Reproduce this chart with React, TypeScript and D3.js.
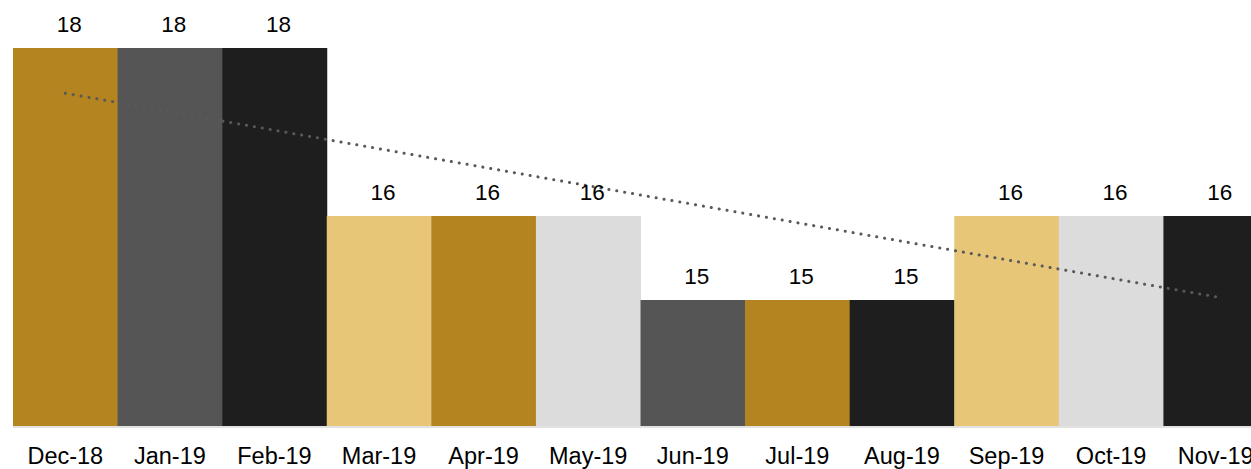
import React from "react";
import * as d3 from "d3";

const months = [
  "Dec-18", "Jan-19", "Feb-19", "Mar-19", "Apr-19", "May-19",
  "Jun-19", "Jul-19", "Aug-19", "Sep-19", "Oct-19", "Nov-19",
];
const values = [18, 18, 18, 16, 16, 16, 15, 15, 15, 16, 16, 16];
const barColors = [
  "#B3841F", "#555555", "#1E1E1E", "#E8C677", "#B3841F", "#DCDCDC",
  "#555555", "#B3841F", "#1E1E1E", "#E8C677", "#DCDCDC", "#1E1E1E",
];

const W = 1251;
const H = 469;

const App: React.FC = () => {
  const x = d3.scaleBand<string>().domain(months).range([13, 1268]).padding(0);
  const y = d3.scaleLinear().domain([13.5, 18]).range([426, 48]);

  // linear trend line (least squares)
  const n = values.length;
  const xs = d3.range(1, n + 1);
  const mx = d3.mean(xs)!;
  const my = d3.mean(values)!;
  const slope =
    d3.sum(xs, (xi, i) => (xi - mx) * (values[i] - my)) /
    d3.sum(xs, (xi) => (xi - mx) ** 2);
  const trend = (xi: number) => my + slope * (xi - mx);
  const cx = (i: number) => x(months[i])! + x.bandwidth() / 2;

  const font = "'Liberation Sans', Arial, sans-serif";

  return (
    <svg
      width={W}
      height={H}
      style={{ position: "absolute", left: 0, top: 0 }}
      fontFamily={font}
    >
      <rect width={W} height={H} fill="#fff" />
      {months.map((m, i) => (
        <rect
          key={m}
          x={x(m)}
          y={y(values[i])}
          width={x.bandwidth() + 0.5}
          height={y(13.5) - y(values[i])}
          fill={barColors[i]}
        />
      ))}
      <line x1={13} x2={1268} y1={427} y2={427} stroke="#D9D9D9" strokeWidth={1.5} />
      <line
        x1={cx(0)}
        y1={y(trend(1))}
        x2={cx(n - 1)}
        y2={y(trend(n))}
        stroke="#595959"
        strokeWidth={3}
        strokeDasharray="0.1 7.9"
        strokeLinecap="round"
      />
      {months.map((m, i) => (
        <text
          key={"v" + m}
          x={cx(i) + 4}
          y={y(values[i]) - 16}
          textAnchor="middle"
          fontSize={22.5}
          fill="#000"
        >
          {values[i]}
        </text>
      ))}
      {months.map((m, i) => (
        <text
          key={"l" + m}
          x={cx(i)}
          y={464}
          textAnchor="middle"
          fontSize={23.5}
          fill="#000"
        >
          {m}
        </text>
      ))}
    </svg>
  );
};

export default App;
